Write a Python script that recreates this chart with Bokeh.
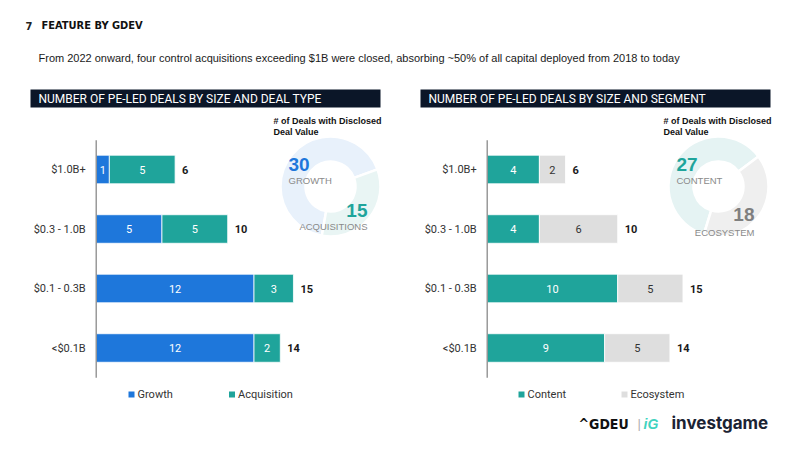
import math
from bokeh.plotting import figure
from bokeh.models import Range1d, ColumnDataSource
from bokeh.core.properties import value
from bokeh.embed import file_html
from bokeh.resources import INLINE

# ---------------- data ----------------
sizes = ["$1.0B+", "$0.3 - 1.0B", "$0.1 - 0.3B", "<$0.1B"]
growth = [1, 5, 12, 12]
acquisition = [5, 5, 3, 2]
content = [4, 4, 10, 9]
ecosystem = [2, 6, 5, 5]
type_names = ["Growth", "Acquisition"]
segment_names = ["Content", "Ecosystem"]
type_donut_labels = ["GROWTH", "ACQUISITIONS"]
segment_donut_labels = ["CONTENT", "ECOSYSTEM"]

BLUE = "#1E77DB"
TEAL = "#1FA49B"
GREY = "#DEDEDE"
NAVY = "#0B1628"

H = 450
p = figure(width=800, height=450, x_range=Range1d(0, 800), y_range=Range1d(0, H),
           output_backend="svg", toolbar_location=None, min_border=0,
           x_axis_location=None, y_axis_location=None,
           outline_line_color=None, background_fill_color="white",
           border_fill_color="white")
p.grid.visible = False


def T(x, y, s, size, color, font="Liberation Sans", style="normal", align="left",
      baseline="middle"):
    p.text(x=[x], y=[H - y], text=[s], text_font=value(font),
           text_font_size=f"{size}px", text_font_style=style, text_color=color,
           text_align=align, text_baseline=baseline)


# ---------------- page texts ----------------
T(25, 25, "7", 11, "#222", font="DejaVu Sans Condensed", style="bold")
T(41, 25, "FEATURE BY GDEV", 11, "#111", font="DejaVu Sans Condensed", style="bold")
T(38, 57, "From 2022 onward, four control acquisitions exceeding $1B were closed, "
          "absorbing ~50% of all capital deployed from 2018 to today", 11, "#1a1a1a")

# header bars
for x0, x1, title in [(30, 380, "NUMBER OF PE-LED DEALS BY SIZE AND DEAL TYPE"),
                      (420, 770, "NUMBER OF PE-LED DEALS BY SIZE AND SEGMENT")]:
    p.quad(left=[x0], right=[x1], top=[H - 89], bottom=[H - 107],
           fill_color=NAVY, line_color=None)
    T(x0 + 8, 98.5, title, 12, "white", font="Roboto")

# ---------------- bar charts ----------------
ROW0, ROWSTEP = 169.0, 59.5
p.extra_y_ranges = {"cat": Range1d(start=(H - ROW0) / ROWSTEP, end=-ROW0 / ROWSTEP)}
LX0, LSC = 95.7, 13.15
RX0, RSC = 486.7, 13.05
p.extra_x_ranges = {
    "lx": Range1d(start=-LX0 / LSC, end=(800 - LX0) / LSC),
    "rx": Range1d(start=-RX0 / RSC, end=(800 - RX0) / RSC),
}

idx = list(range(len(sizes)))


def bar_chart(xr, first, second, c1, c2, t1, t2):
    left2 = first
    right2 = [a + b for a, b in zip(first, second)]
    src = ColumnDataSource(dict(
        y=idx, cat=sizes, a=first, b=second, r2=right2, l2=left2,
        m1=[a / 2 for a in first], m2=[a + b / 2 for a, b in zip(first, second)],
        sa=[str(v) for v in first], sb=[str(v) for v in second],
        st=[str(v) for v in right2], zero=[0] * len(idx)))
    kw = dict(source=src, x_range_name=xr, y_range_name="cat")
    p.hbar(y="y", left="zero", right="a", height=0.48, fill_color=c1,
           line_color="white", line_width=0.8, **kw)
    p.hbar(y="y", left="l2", right="r2", height=0.48, fill_color=c2,
           line_color="white", line_width=0.8, **kw)
    p.text(x="m1", y="y", text="sa", text_color=t1, text_font=value("Roboto"),
           text_font_size="11px", text_align="center", text_baseline="middle", **kw)
    p.text(x="m2", y="y", text="sb", text_color=t2, text_font=value("Roboto"),
           text_font_size="11px", text_align="center", text_baseline="middle", **kw)
    p.text(x="r2", y="y", text="st", text_color="#1a1a1a", text_font=value("Roboto"),
           text_font_size="11px", text_font_style="bold", text_align="left",
           text_baseline="middle", x_offset=7, **kw)
    p.text(x="zero", y="y", text="cat", text_color="#333333", text_font=value("Roboto"),
           text_font_size="11px", text_align="right", text_baseline="middle",
           x_offset=-10.5, **kw)
    # axis line
    p.segment(x0=[0], x1=[0], y0=[-0.49], y1=[3.5], line_color="#8a8a8a",
              line_width=1.3, x_range_name=xr, y_range_name="cat")


bar_chart("lx", growth, acquisition, BLUE, TEAL, "white", "white")
bar_chart("rx", content, ecosystem, TEAL, GREY, "white", "#333333")

# legends
for sx, color, label in [(131, BLUE, type_names[0]), (231.5, TEAL, type_names[1]),
                         (521, TEAL, segment_names[0]), (624, GREY, segment_names[1])]:
    p.scatter(x=[sx], y=[H - 394], marker="square", size=6, fill_color=color,
              line_color=None)
    T(sx + 6, 394, label, 11, "#333333", font="Roboto")

# ---------------- donuts ----------------
def donut(cx, cy, vals, base_deg, colors):
    tot = sum(vals)
    starts, ends = [], []
    a = base_deg
    for v in vals:
        starts.append(math.radians(a))
        a += 360.0 * v / tot
        ends.append(math.radians(a))
    p.annular_wedge(x=[cx] * len(vals), y=[H - cy] * len(vals), inner_radius=25,
                    outer_radius=50, start_angle=starts, end_angle=ends,
                    fill_color=colors, line_color="white", line_width=2.5)


type_tot = [sum(growth), sum(acquisition)]
seg_tot = [sum(content), sum(ecosystem)]

for x0 in (273, 663):
    T(x0, 120, "# of Deals with Disclosed", 9, "#111", style="bold")
    T(x0, 131.5, "Deal Value", 9, "#111", style="bold")

donut(330, 186, type_tot, 20, ["#E8F1FB", "#E9F5F4"])
T(288, 164, str(type_tot[0]), 19, BLUE, style="bold")
T(288, 180, type_donut_labels[0], 9.5, "#8a8a8a")
T(367, 210, str(type_tot[1]), 19, TEAL, style="bold", align="right")
T(367, 226, type_donut_labels[1], 9.5, "#8a8a8a", align="right")

donut(718, 186, seg_tot, 37, ["#E5F3F3", "#EFEFEF"])
T(676, 164, str(seg_tot[0]), 19, TEAL, style="bold")
T(676, 180, segment_donut_labels[0], 9.5, "#8a8a8a")
T(754, 214, str(seg_tot[1]), 19, "#7f7f7f", style="bold", align="right")
T(754, 232, segment_donut_labels[1], 9.5, "#8a8a8a", align="right")

# ---------------- logos ----------------
T(578, 423, "^GDEU", 14, "#111", font="DejaVu Sans Condensed", style="bold")
T(637, 423, "|", 13, "#b0b0b0")
T(643, 423, "iG", 14, "#3FD3C0", style="bold italic")
T(671, 422, "investgame", 17, "#1b2333", font="Inter", style="bold")

open("out.html", "w").write(file_html(p, INLINE))
